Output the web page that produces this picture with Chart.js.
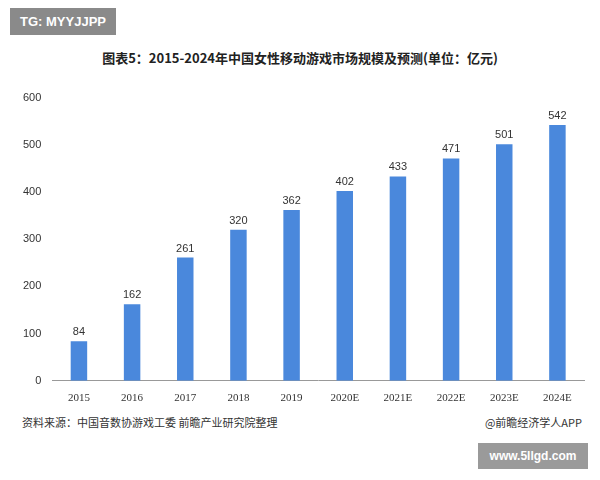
<!DOCTYPE html>
<html><head><meta charset="utf-8">
<script src="https://cdn.jsdelivr.net/npm/chart.js@4"></script>
<style>
body{margin:0;background:#fff;font-family:"Noto Sans CJK SC","Noto Sans",sans-serif;}
#wrap{position:relative;width:600px;height:480px;}
#title{position:absolute;top:48px;left:0;width:600px;text-align:center;font-size:13px;font-weight:bold;color:#222;}
#cv{position:absolute;left:20px;top:88px;}
#src{position:absolute;left:22px;top:414px;font-size:11px;color:#333;}
#app{position:absolute;right:18px;top:414px;font-size:11px;color:#333;}
#tg{position:absolute;left:10px;top:8px;width:106px;height:27px;background:#8a8a8a;color:#fff;font:bold 13px "Liberation Sans",sans-serif;line-height:27px;text-align:center;}
#www{position:absolute;left:478px;top:443px;width:110px;height:26px;background:#9a9a9a;color:#fff;font:bold 12px "Liberation Sans",sans-serif;line-height:26px;text-align:center;}
</style></head><body>
<div id="wrap">
<div id="tg">TG: MYYJJPP</div>
<div id="title">图表5：2015-2024年中国女性移动游戏市场规模及预测(单位：亿元)</div>
<canvas id="cv" width="570" height="320"></canvas>
<div id="src">资料来源：中国音数协游戏工委 前瞻产业研究院整理</div>
<div id="app">@前瞻经济学人APP</div>
<div id="www">www.5llgd.com</div>
</div>
<script>
var years = ["2015","2016","2017","2018","2019","2020E","2021E","2022E","2023E","2024E"];
var sizes = [84,162,261,320,362,402,433,471,501,542];

var labelPlugin = {
  id: 'labels',
  afterDatasetsDraw: function (chart) {
    var ctx = chart.ctx;
    ctx.save();
    ctx.font = '11px "Liberation Sans", sans-serif';
    ctx.fillStyle = '#333';
    ctx.textAlign = 'center';
    chart.getDatasetMeta(0).data.forEach(function (bar, i) {
      ctx.fillText(sizes[i], bar.x, bar.y - 6);
    });
    ctx.restore();
  }
};

new Chart(document.getElementById('cv'), {
  type: 'bar',
  data: {
    labels: years,
    datasets: [{ data: sizes, backgroundColor: '#4a88dc', barPercentage: 0.31, categoryPercentage: 1 }]
  },
  plugins: [labelPlugin],
  options: {
    responsive: false,
    animation: false,
    layout: { padding: { right: 6, top: 3 } },
    plugins: { legend: { display: false }, tooltip: { enabled: false } },
    scales: {
      x: {
        grid: { display: false },
        border: { color: '#999' },
        ticks: { color: '#333', font: { size: 11, family: 'Liberation Serif' } }
      },
      y: {
        min: 0, max: 600,
        grid: { display: false },
        border: { display: false },
        ticks: { stepSize: 100, color: '#333', font: { size: 11, family: 'Liberation Sans' } }
      }
    }
  }
});
</script>
</body></html>
